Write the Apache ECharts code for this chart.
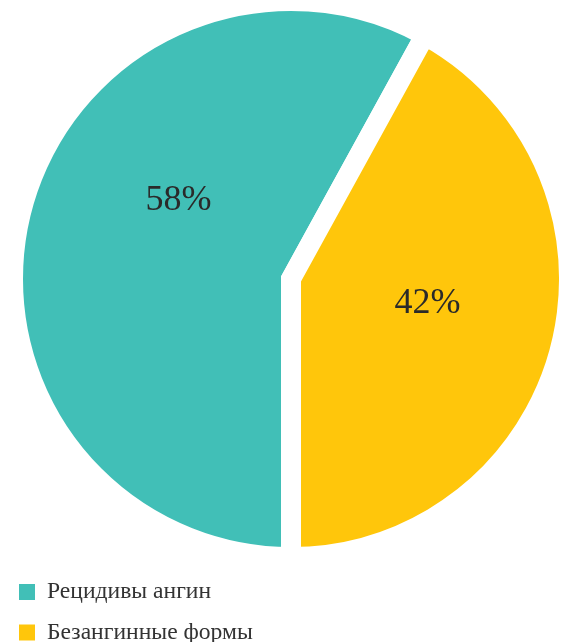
<!DOCTYPE html>
<html><head><meta charset="utf-8">
<script src="https://cdn.jsdelivr.net/npm/echarts@6/dist/echarts.min.js"></script>
<style>html,body{margin:0;padding:0;background:#fff}#c{width:564px;height:642px}</style>
</head><body><div id="c"></div>
<script>
const categories = ['Рецидивы ангин', 'Безангинные формы'];
const values = [58, 42];
const colors = ['#41bfb7', '#ffc60b'];
const labelShift = [[25, -43], [-1, -11]];

const chart = echarts.init(document.getElementById('c'), null, {renderer: 'canvas'});
chart.setOption({
  animation: false,
  legend: {
    orient: 'vertical', left: 19, top: 580, height: 80, padding: 0,
    itemWidth: 16, itemHeight: 16, itemGap: 16.5,
    icon: 'rect',
    itemStyle: {borderWidth: 0},
    textStyle: {fontFamily: 'Liberation Serif', fontSize: 23.6, lineHeight: 16, color: '#333', padding: [0, 0, 0, 7]},
    data: categories
  },
  series: [{
    type: 'pie',
    center: [291, 279],
    radius: [0, 278],
    startAngle: 270,
    clockwise: true,
    avoidLabelOverlap: false,
    itemStyle: {borderColor: '#fff', borderWidth: 20, borderJoin: 'miter', borderMiterLimit: 20},
    label: {
      show: true, position: 'inside',
      formatter: '{c}%',
      fontFamily: 'Liberation Serif', fontSize: 36, color: '#2a2a2a'
    },
    labelLine: {show: false},
    labelLayout: function (p) { return {dx: labelShift[p.dataIndex][0], dy: labelShift[p.dataIndex][1]}; },
    emphasis: {disabled: true},
    data: categories.map((n, i) => ({name: n, value: values[i], itemStyle: {color: colors[i]}}))
  }]
});
</script></body></html>
